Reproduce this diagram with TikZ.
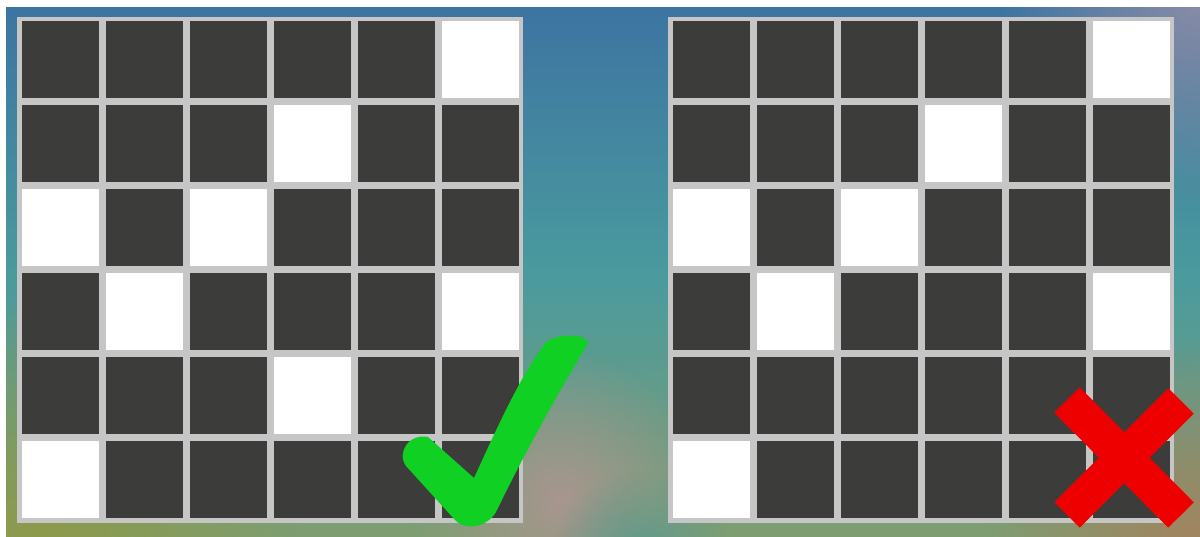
\documentclass[tikz,border=0pt]{standalone}
\usetikzlibrary{fadings}
\definecolor{bgtop}{HTML}{3D74A2}
\definecolor{bgmid}{HTML}{4A9A9E}
\definecolor{bgbot}{HTML}{7E9E72}
\definecolor{olive}{HTML}{8E9A48}
\definecolor{pinkgray}{HTML}{A8968E}
\definecolor{brownish}{HTML}{A4825E}
\definecolor{graypurple}{HTML}{8A8CA6}
\definecolor{gridgray}{HTML}{C6C6C6}
\definecolor{cellDark}{HTML}{3C3C3A}
\definecolor{checkgreen}{HTML}{10D024}
\definecolor{crossred}{HTML}{EE0000}
\tikzfading[name=softspot, inner color=transparent!0, outer color=transparent!100]
\tikzset{
  darkcell/.style={fill=cellDark},
  lightcell/.style={fill=white},
  gridframe/.style={fill=gridgray},
  spot/.style={path fading=softspot, fit fading=true},
}
\begin{document}
\begin{tikzpicture}[x=1pt,y=-1pt]
\useasboundingbox (0,0) rectangle (1200,536);
\fill[white] (0,0) rectangle (1200,536);
% background gradient
\shade[top color=bgtop, bottom color=bgbot, middle color=bgmid] (6,7) rectangle (1200,536);
\begin{scope}
\clip (6,7) rectangle (1200,536);
\fill[olive, spot] (40,560) circle (260);
\fill[pinkgray, spot] (560,500) circle (150);
\fill[brownish, spot] (1200,560) circle (220);
\fill[graypurple, spot] (1200,0) circle (200);
\fill[bgmid!80!olive, spot] (640,560) circle (90);
\end{scope}
% left grid
\fill[gridframe] (17,17) rectangle (523,523);
\foreach \c in {0,...,5}{
  \foreach \r in {0,...,5}{
    \fill[darkcell] ({22+84*\c},{21+84*\r}) rectangle ++(76.5,76.5);
  }
}
\foreach \c/\r in {5/0,3/1,0/2,2/2,1/3,5/3,3/4,0/5}{
  \fill[lightcell] ({22+84*\c},{21+84*\r}) rectangle ++(76.5,76.5);
}
% right grid
\fill[gridframe] (668,17) rectangle (1174,523);
\foreach \c in {0,...,5}{
  \foreach \r in {0,...,5}{
    \fill[darkcell] ({673+84*\c},{21+84*\r}) rectangle ++(76.5,76.5);
  }
}
\foreach \c/\r in {5/0,3/1,0/2,2/2,1/3,5/3,0/5}{
  \fill[lightcell] ({673+84*\c},{21+84*\r}) rectangle ++(76.5,76.5);
}
% check mark
\fill[checkgreen]
  (428,437) -- (474,478) .. controls (497,428) and (521,374) .. (547,341)
  .. controls (560,334) and (585,333) .. (588,343)
  .. controls (560,390) and (526,450) .. (497,510)
  .. controls (490,525) and (469,532) .. (456,521)
  -- (406,466) .. controls (396,452) and (410,433) .. (428,437) -- cycle;
% cross
\draw[crossred, line width=36pt] (1067,400) -- (1181,515);
\draw[crossred, line width=36pt] (1181,401) -- (1067,515);
\end{tikzpicture}
\end{document}
